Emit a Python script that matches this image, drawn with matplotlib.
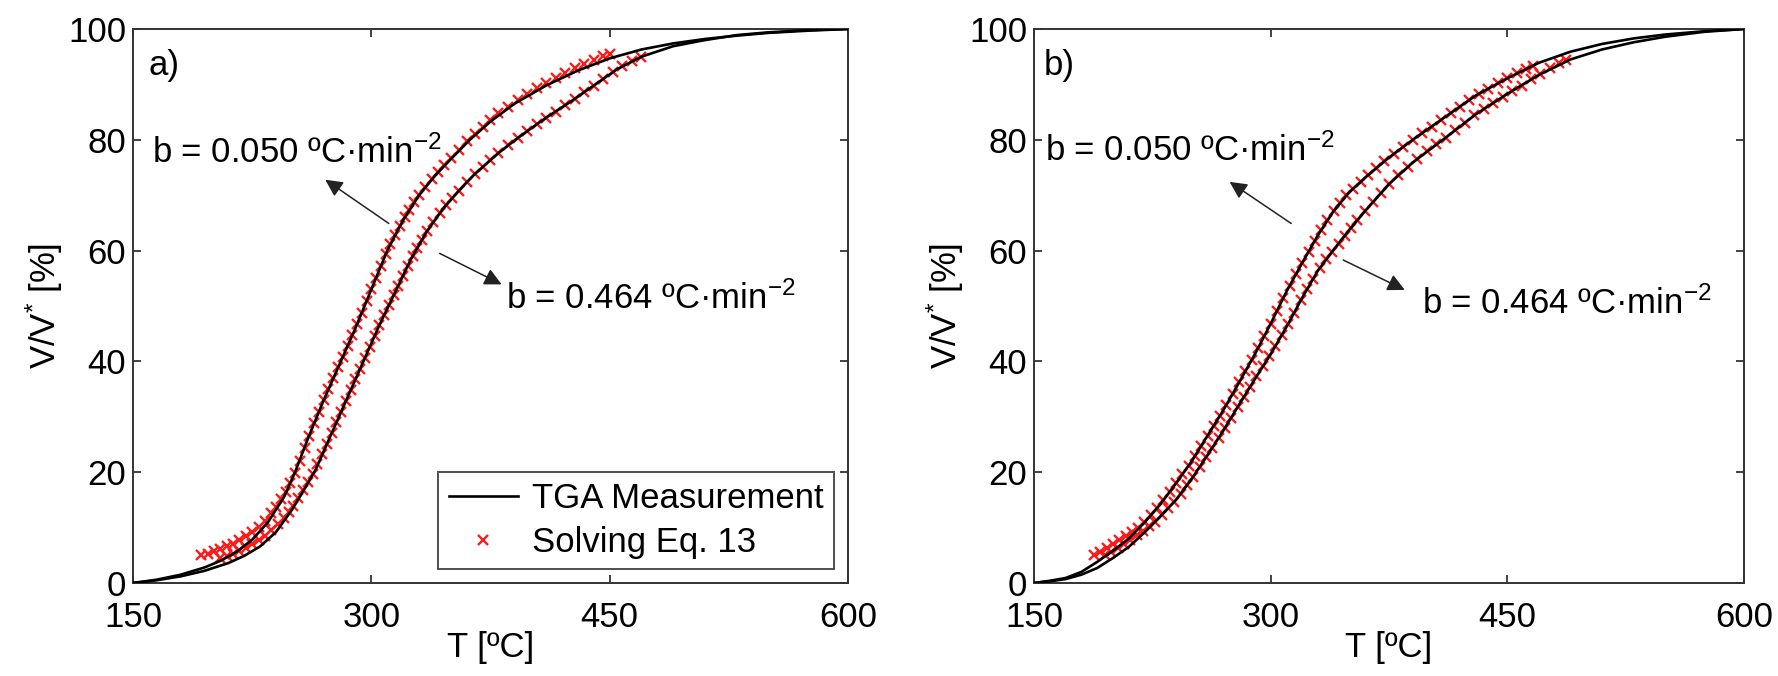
import matplotlib
matplotlib.use("Agg")
import matplotlib.pyplot as plt
from matplotlib.lines import Line2D

plt.rcParams["font.family"] = ["Liberation Sans", "DejaVu Sans"]
plt.rcParams["mathtext.default"] = "regular"

# ---- panel a: TGA measurement (black) -------------------------------------
a_slow_T = [150, 165, 180, 195, 205, 215, 225, 235, 245, 252, 260, 270, 280, 290, 300,
            310, 320, 330, 340, 350, 362, 375, 390, 410, 430, 450, 470, 490, 510, 530,
            550, 575, 600]
a_slow_V = [0, 0.6, 1.5, 2.8, 4.0, 5.6, 7.8, 11.0, 15.5, 20, 26, 33, 39.5, 46, 53,
            60, 65.5, 70, 73.5, 76.5, 80, 83.3, 86.5, 89.8, 92.5, 94.7, 96.3, 97.4, 98.2, 98.8,
            99.3, 99.7, 100]

a_fast_T = [150, 165, 180, 195, 210, 220, 230, 240, 250, 258, 265, 275, 285, 295, 305,
            315, 325, 335, 345, 355, 365, 380, 392, 410, 425, 440, 455, 470, 490, 510,
            530, 550, 575, 600]
a_fast_V = [0, 0.5, 1.2, 2.2, 3.6, 4.9, 6.6, 9.2, 13.2, 17, 20.5, 27, 33.5, 40, 46.5,
            52.5, 58.5, 63.5, 67.5, 70.8, 73.8, 77.6, 80.3, 84, 86.8, 89.8, 92.8, 95.0, 96.9, 98.0,
            98.9, 99.4, 99.8, 100]

# ---- panel a: Eq. 13 solution (red crosses) -------------------------------
a_slow_mT = [193, 197, 201, 205, 209, 213, 217, 221, 225, 229, 233, 237, 240, 243, 246,
             249, 252, 255, 258, 261, 264, 267, 270, 273, 276, 279, 282, 285, 288, 291,
             294, 297, 300, 303, 306, 309, 312, 315, 318, 321, 324, 327, 330, 334, 338,
             342, 346, 350, 355, 360, 365, 370, 375, 380, 386, 392, 398, 404, 410, 416,
             422, 428, 434, 440, 446, 450]
a_slow_mV = [5.0, 5.3, 5.7, 6.1, 6.6, 7.1, 7.7, 8.4, 9.2, 10.1, 11.2, 12.6, 13.8, 15.1, 16.5,
             18.0, 19.9, 22.0, 24.3, 26.6, 28.8, 30.9, 33.0, 35.0, 37.0, 38.9, 40.8, 42.7, 44.7, 46.7,
             48.8, 50.9, 53.0, 55.1, 57.2, 59.3, 61.2, 62.9, 64.5, 66.0, 67.4, 68.7, 70.0, 71.5, 72.9,
             74.2, 75.5, 76.7, 78.2, 79.7, 81.1, 82.4, 83.6, 84.8, 86.0, 87.2, 88.3, 89.4, 90.3, 91.2,
             92.1, 92.9, 93.7, 94.4, 95.1, 95.5]

a_fast_mT = [205, 209, 213, 217, 221, 225, 229, 233, 237, 241, 245, 248, 251, 254, 257,
             260, 263, 266, 269, 272, 275, 278, 281, 284, 287, 290, 293, 296, 299, 302,
             305, 308, 311, 314, 317, 320, 323, 326, 329, 332, 335, 339, 343, 347, 351,
             355, 360, 365, 370, 375, 380, 386, 392, 398, 404, 410, 416, 422, 428, 434,
             440, 446, 452, 458, 464, 470]
a_fast_mV = [4.5, 4.9, 5.3, 5.8, 6.4, 7.0, 7.7, 8.5, 9.5, 10.6, 11.7, 12.8, 13.9, 15.3, 16.7,
             18.2, 19.7, 21.4, 23.3, 25.1, 27.0, 29.0, 30.9, 32.9, 34.8, 36.8, 38.7, 40.6, 42.6, 44.5,
             46.5, 48.3, 50.1, 51.9, 53.7, 55.5, 57.3, 59.0, 60.5, 62.0, 63.5, 65.1, 66.7, 68.2, 69.5,
             70.8, 72.3, 73.8, 75.1, 76.4, 77.6, 79.0, 80.3, 81.5, 82.8, 84.0, 85.1, 86.2, 87.4, 88.6,
             89.8, 91.0, 92.2, 93.3, 94.2, 95.0]

# ---- panel b: TGA measurement (black) -------------------------------------
b_T = [150, 160, 170, 180, 190, 200, 210, 220, 230, 240, 250, 260, 270, 280, 290,
       300, 310, 320, 330, 340, 350, 360, 375, 390, 410, 430, 450, 470, 490, 510,
       530, 550, 575, 600]
b_slow_V = [0, 0.4, 0.9, 2.0, 3.8, 5.8, 8.0, 10.9, 14.2, 18.0, 22.0, 26.6, 31.2, 36.2, 41.3,
            46.8, 52.6, 57.8, 62.8, 67.2, 70.6, 73.2, 76.8, 80.0, 84.0, 88.0, 91.1, 93.9, 95.9, 97.3,
            98.3, 99.0, 99.6, 100]
b_fast_V = [0, 0.3, 0.7, 1.5, 2.7, 4.5, 6.5, 9.1, 12.0, 15.0, 18.8, 23.1, 27.5, 32.2, 36.8,
            41.3, 46.2, 51.5, 56.4, 60.2, 63.8, 67.2, 72.0, 75.9, 80.2, 84.6, 88.3, 91.7, 94.5, 96.3,
            97.6, 98.6, 99.5, 100]

# ---- panel b: Eq. 13 solution (red crosses) -------------------------------
b_slow_mT = [188, 192, 196, 200, 204, 208, 212, 216, 220, 224, 228, 232, 236, 240, 244,
             248, 252, 256, 260, 264, 268, 272, 276, 280, 284, 288, 292, 296, 300, 304,
             308, 312, 316, 320, 324, 328, 332, 336, 340, 344, 348, 352, 357, 362, 367,
             372, 378, 384, 390, 396, 402, 408, 414, 420, 426, 432, 438, 444, 450, 456,
             462, 466]
b_slow_mV = [5.0, 5.6, 6.3, 7.0, 7.7, 8.4, 9.2, 10.0, 11.0, 12.2, 13.5, 14.9, 16.4, 18.0, 19.6,
             21.2, 22.9, 24.7, 26.6, 28.4, 30.2, 32.2, 34.2, 36.2, 38.2, 40.3, 42.4, 44.6, 46.8, 49.1,
             51.4, 53.7, 55.8, 57.8, 59.8, 61.8, 63.7, 65.5, 67.2, 68.6, 70.0, 71.1, 72.4, 73.7, 74.9,
             76.1, 77.4, 78.7, 80.0, 81.2, 82.4, 83.6, 84.8, 86.0, 87.2, 88.3, 89.2, 90.2, 91.1, 92.0,
             92.8, 93.3]

b_fast_mT = [195, 199, 203, 207, 211, 215, 219, 223, 227, 231, 235, 239, 243, 247, 251,
             255, 259, 263, 267, 271, 275, 279, 283, 287, 291, 295, 299, 303, 307, 311,
             315, 319, 323, 327, 331, 335, 339, 343, 347, 351, 355, 360, 365, 370, 375,
             381, 387, 393, 399, 405, 411, 417, 423, 429, 435, 441, 447, 453, 459, 465,
             471, 477, 483, 487]
b_fast_mV = [5.0, 5.6, 6.3, 7.0, 7.8, 8.6, 9.4, 10.2, 11.1, 12.2, 13.5, 14.7, 16.1, 17.6, 19.2,
             20.9, 22.7, 24.4, 26.2, 28.0, 29.8, 31.7, 33.6, 35.4, 37.3, 39.1, 40.9, 42.8, 44.7, 46.7,
             48.8, 51.0, 53.0, 54.9, 56.8, 58.4, 59.8, 61.2, 62.7, 64.1, 65.5, 67.2, 68.8, 70.4, 72.0,
             73.6, 75.1, 76.6, 78.0, 79.2, 80.4, 81.8, 83.1, 84.4, 85.6, 86.7, 87.8, 88.8, 89.8, 90.9,
             91.9, 92.9, 93.8, 94.4]

X_TICKS = [150, 300, 450, 600]
Y_TICKS = [0, 20, 40, 60, 80, 100]
LABEL_SLOW = r"b = 0.050 ºC·min$^{-2}$"
LABEL_FAST = r"b = 0.464 ºC·min$^{-2}$"

FS = 25
RED = "#ff1a1a"
MARK = dict(ls="none", marker="x", ms=6.5, mew=1.7, color=RED)


def draw_panel(ax, curves, markers, tag, txt_slow, arr_slow, txt_fast, arr_fast):
    for T, V in markers:
        ax.plot(T, V, zorder=2, **MARK)
    for T, V in curves:
        ax.plot(T, V, color="black", lw=1.9, zorder=3)

    ax.set_xlim(150, 600)
    ax.set_ylim(0, 100)
    ax.set_xticks(X_TICKS)
    ax.set_yticks(Y_TICKS)
    ax.tick_params(direction="in", length=6, width=1.2, top=True, right=True,
                   labelsize=FS, colors="#222222", labelcolor="black")
    ax.tick_params(axis="x", pad=13)
    ax.tick_params(axis="y", pad=5)
    for s in ax.spines.values():
        s.set_linewidth(1.4)
        s.set_color("#333333")
    ax.set_xlabel("T [ºC]", fontsize=FS, labelpad=-2)
    ax.set_ylabel(r"V/V$^{*}$ [%]", fontsize=FS, labelpad=2)

    ax.text(tag[0], tag[1], tag[2], fontsize=FS, va="center", ha="left")

    ax.text(txt_slow[0], txt_slow[1], LABEL_SLOW, fontsize=25, va="center", ha="left")
    ax.text(txt_fast[0], txt_fast[1], LABEL_FAST, fontsize=25, va="center", ha="left")
    for (x0, y0, x1, y1) in (arr_slow, arr_fast):
        ax.annotate("", xy=(x1, y1), xytext=(x0, y0),
                    arrowprops=dict(arrowstyle="-|>", color="#222222", lw=1.1,
                                    mutation_scale=26, shrinkA=0, shrinkB=0))


fig = plt.figure(figsize=(17.78, 6.76), dpi=100)
ax_a = fig.add_axes([133 / 1778, 93 / 676, 715 / 1778, 554 / 676])
ax_b = fig.add_axes([1034 / 1778, 93 / 676, 710 / 1778, 554 / 676])

draw_panel(ax_a,
           [(a_slow_T, a_slow_V), (a_fast_T, a_fast_V)],
           [(a_slow_mT, a_slow_mV), (a_fast_mT, a_fast_mV)],
           (160, 93.5, "a)"),
           (162, 77.7), (311, 64.9, 271, 72.8),
           (385, 51.3), (343, 59.5, 382, 53.9))

draw_panel(ax_b,
           [(b_T, b_slow_V), (b_T, b_fast_V)],
           [(b_slow_mT, b_slow_mV), (b_fast_mT, b_fast_mV)],
           (156, 93.5, "b)"),
           (157, 78.1), (313, 64.9, 274, 72.4),
           (396, 50.5), (346, 58.3, 385, 52.9))

handles = [Line2D([], [], color="black", lw=1.9), Line2D([], [], **MARK)]
leg = ax_a.legend(handles, ["TGA Measurement", "Solving Eq. 13"], loc="lower right",
                  fontsize=FS, frameon=True, fancybox=False, edgecolor="#222222",
                  handlelength=2.0, handletextpad=0.4, borderpad=0.3, labelspacing=0.3,
                  borderaxespad=0.4)
leg.get_frame().set_linewidth(1.4)

fig.savefig("out.png", dpi=100)
